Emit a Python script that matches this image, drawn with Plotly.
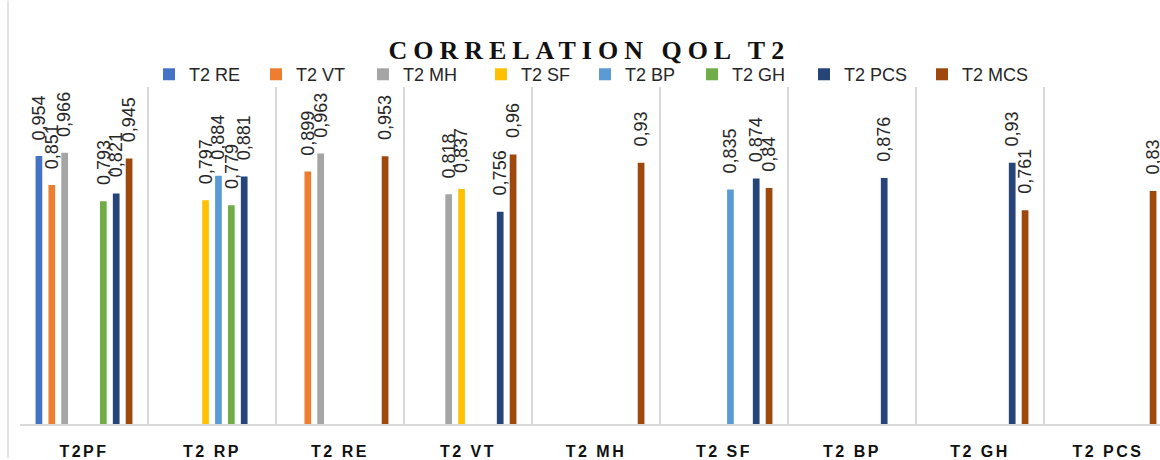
import plotly.graph_objects as go

categories = ["T2PF", "T2 RP", "T2 RE", "T2 VT", "T2 MH", "T2 SF", "T2 BP", "T2 GH", "T2 PCS"]

series_names = ["T2 RE", "T2 VT", "T2 MH", "T2 SF", "T2 BP", "T2 GH", "T2 PCS", "T2 MCS"]

t2_re  = [0.954, None, None, None, None, None, None, None, None]
t2_vt  = [0.851, None, 0.899, None, None, None, None, None, None]
t2_mh  = [0.966, None, 0.963, 0.818, None, None, None, None, None]
t2_sf  = [None, 0.797, None, 0.837, None, None, None, None, None]
t2_bp  = [None, 0.884, None, None, None, 0.835, None, None, None]
t2_gh  = [0.793, 0.779, None, None, None, None, None, None, None]
t2_pcs = [0.821, 0.881, None, 0.756, None, 0.874, 0.876, 0.93, None]
t2_mcs = [0.945, None, 0.953, 0.96, 0.93, 0.84, None, 0.761, 0.83]

series_values = [t2_re, t2_vt, t2_mh, t2_sf, t2_bp, t2_gh, t2_pcs, t2_mcs]
colors = ["#4472C4", "#ED7D31", "#A5A5A5", "#FFC000", "#5B9BD5", "#70AD47", "#264478", "#9E480E"]

def fmt(v):
    return ("%g" % v).replace(".", ",")

W, H = 1160, 460
L, R, T, B = 20, 0, 87, 34
pw = W - L - R
ph = H - T - B
cat_w = 128.0
bargap = 0.195
nser = len(series_names)
slot = cat_w * (1 - bargap) / nser

# legend marker left edges (px) for each entry
legend_px = [163, 270, 377, 495, 599, 706, 818, 936]

fig = go.Figure()
annotations = []
legend_layouts = {}
for i, (name, vals, col) in enumerate(zip(series_names, series_values, colors)):
    lg = "legend" if i == 0 else "legend%d" % (i + 1)
    fig.add_trace(go.Bar(
        x=categories, y=vals, name=name, marker_color=col,
        marker_line_width=0, legend=lg,
        hoverinfo="x+y+name",
    ))
    legend_layouts[lg] = dict(
        orientation="h", x=(legend_px[i] - 14 - L) / pw, xanchor="left",
        y=1 + (T - 74.5) / ph, yanchor="middle",
        font=dict(family="Liberation Sans", size=18, color="#262626"),
        bgcolor="rgba(0,0,0,0)",
    )
    for c, v in zip(categories, vals):
        if v is None:
            continue
        annotations.append(dict(
            x=c, y=v, xref="x", yref="y", text=fmt(v), showarrow=False,
            textangle=-90, xanchor="center", yanchor="bottom",
            xshift=(i - (nser - 1) / 2) * slot, yshift=14,
            font=dict(family="Liberation Sans", size=18, color="#262626"),
        ))

fig.update_layout(
    width=W, height=H,
    margin=dict(l=L, r=R, t=T, b=B, pad=0),
    paper_bgcolor="white", plot_bgcolor="white",
    barmode="group", bargap=bargap, bargroupgap=0.48,
    title=dict(
        text='<span style="letter-spacing:6px">CORRELATION QOL T2</span>',
        font=dict(family="Liberation Serif", size=26, color="#111111", weight="bold"),
        x=0.508, xanchor="center", xref="container",
        y=1 - 50 / H, yanchor="middle", yref="container",
    ),
    showlegend=True,
    xaxis=dict(
        type="category", range=[-0.5, -0.5 + pw / cat_w],
        tickson="boundaries", showgrid=True, gridcolor="#D9D9D9", gridwidth=1.5,
        showline=True, linecolor="#D9D9D9", linewidth=2,
        ticks="", ticklabelstandoff=12,
        tickmode="array", tickvals=categories,
        ticktext=['<span style="letter-spacing:2.5px">%s</span>' % c for c in categories],
        tickfont=dict(family="Liberation Sans", size=16, color="#111111", weight="bold"),
    ),
    yaxis=dict(range=[0, 1.2], visible=False, showgrid=False),
    annotations=annotations,
    shapes=[dict(
        type="line", xref="paper", yref="paper",
        x0=(8 - L) / pw, x1=(8 - L) / pw, y0=-B / ph, y1=(H - B) / ph,
        line=dict(color="#D9D9D9", width=1.5),
    )],
    **legend_layouts,
)

fig.write_html("out.html")
